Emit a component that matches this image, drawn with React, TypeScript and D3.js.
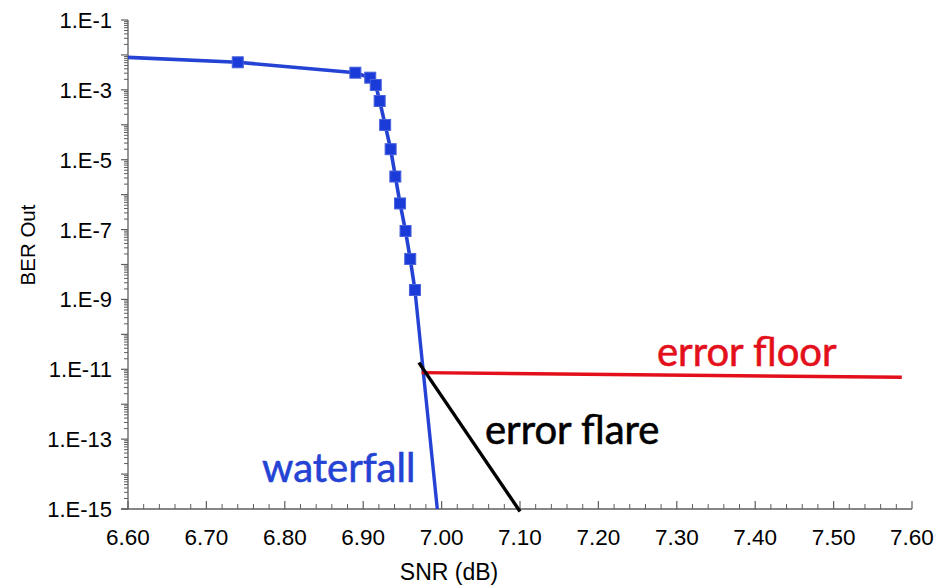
import React from "react";
import * as d3 from "d3";

// Measured BER curve (with markers)
const snrMeasured = [6.6, 6.74, 6.89, 6.909, 6.916, 6.921, 6.928, 6.935, 6.941, 6.947, 6.954, 6.96, 6.966];
const berMeasured = [8.5e-3, 6.15e-3, 3.1e-3, 2.23e-3, 1.38e-3, 4.8e-4, 9.9e-5, 2.0e-5, 3.3e-6, 5.6e-7, 9.1e-8, 1.44e-8, 1.86e-9];
const markerFlags = [false, true, true, true, true, true, true, true, true, true, true, true, true];

// Extrapolated waterfall
const snrWaterfall = [6.966, 6.9945];
const berWaterfall = [1.86e-9, 1e-15];

// Error floor
const snrFloor = [6.9745, 7.587];
const berFloor = [8.0e-12, 5.9e-12];

// Error flare
const snrFlare = [6.971, 7.1];
const berFlare = [1.55e-11, 0.85e-15];

const xTickValues = [6.6, 6.7, 6.8, 6.9, 7.0, 7.1, 7.2, 7.3, 7.4, 7.5, 7.6];
const yTickExponents = [-1, -3, -5, -7, -9, -11, -13, -15];

const W = 938;
const H = 585;
const left = 128;
const right = 912;
const top = 20;
const bottom = 509;

export default function App() {
  const x = d3.scaleLinear().domain([6.6, 7.6]).range([left, right]);
  const y = d3.scaleLog().domain([1e-1, 1e-15]).range([top, bottom]);
  const line = d3
    .line<[number, number]>()
    .x((d) => x(d[0]))
    .y((d) => y(d[1]));

  const zip = (a: number[], b: number[]) => a.map((v, i) => [v, b[i]] as [number, number]);

  const axisColor = "#5e5e5e";
  const tickFont = "'Liberation Sans', Arial, sans-serif";
  const annoFont = "Lato, 'Open Sans', sans-serif";

  // y ticks
  const yMajor: number[] = [];
  const yMinor: number[] = [];
  for (let e = -1; e >= -15; e--) {
    yMajor.push(Math.pow(10, e));
    if (e > -15) {
      for (let k = 2; k <= 9; k++) yMinor.push(k * Math.pow(10, e - 1));
    }
  }
  // x minor ticks
  const xMinor: number[] = [];
  for (let i = 0; i <= 50; i++) {
    if (i % 5 !== 0) xMinor.push(6.6 + i * 0.02);
  }

  const blue = "#2443d4";
  const markerBlue = "#1b3bd8";
  const red = "#e3101c";

  return (
    <svg
      width={W}
      height={H}
      style={{ position: "absolute", left: 0, top: 0, background: "#fff" }}
    >
      <rect x={0} y={0} width={W} height={H} fill="#fff" />
      {/* axes */}
      <line x1={left} x2={left} y1={top} y2={bottom} stroke={axisColor} strokeWidth={1.3} />
      <line x1={left - 7} x2={right} y1={bottom} y2={bottom} stroke={axisColor} strokeWidth={1.3} />
      {yMajor.map((v, i) => (
        <line key={"ym" + i} x1={left - 7} x2={left} y1={y(v)} y2={y(v)} stroke={axisColor} strokeWidth={1.2} />
      ))}
      {yMinor.map((v, i) => (
        <line key={"yn" + i} x1={left - 4} x2={left} y1={y(v)} y2={y(v)} stroke={axisColor} strokeWidth={1} />
      ))}
      {xTickValues.map((v, i) => (
        <line key={"xm" + i} x1={x(v)} x2={x(v)} y1={bottom} y2={bottom - 8} stroke={axisColor} strokeWidth={1.2} />
      ))}
      {xMinor.map((v, i) => (
        <line key={"xn" + i} x1={x(v)} x2={x(v)} y1={bottom} y2={bottom - 5} stroke={axisColor} strokeWidth={1} />
      ))}
      {/* tick labels */}
      {yTickExponents.map((e) => (
        <text
          key={"yl" + e}
          x={112}
          y={y(Math.pow(10, e)) + 8}
          textAnchor="end"
          fontFamily={tickFont}
          fontSize={22}
          fill="#000"
        >
          {"1.E" + e}
        </text>
      ))}
      {xTickValues.map((v) => (
        <text
          key={"xl" + v}
          x={x(v)}
          y={545}
          textAnchor="middle"
          fontFamily={tickFont}
          fontSize={22.5}
          fill="#000"
        >
          {v.toFixed(2)}
        </text>
      ))}
      {/* axis titles */}
      <text x={449} y={580} textAnchor="middle" fontFamily={tickFont} fontSize={23} fill="#000">
        SNR (dB)
      </text>
      <text
        transform="translate(35,245) rotate(-90)"
        textAnchor="middle"
        fontFamily={tickFont}
        fontSize={20.5}
        fill="#000"
      >
        BER Out
      </text>

      {/* curves */}
      <path d={line(zip(snrWaterfall, berWaterfall)) || ""} fill="none" stroke={blue} strokeWidth={3.4} />
      <path d={line(zip(snrFloor, berFloor)) || ""} fill="none" stroke={red} strokeWidth={3.4} />
      <path d={line(zip(snrFlare, berFlare)) || ""} fill="none" stroke="#000" strokeWidth={3.4} />
      <path d={line(zip(snrMeasured, berMeasured)) || ""} fill="none" stroke={blue} strokeWidth={3.6} />
      {snrMeasured.map((s, i) =>
        markerFlags[i] ? (
          <rect
            key={"mk" + i}
            x={x(s) - 5.5}
            y={y(berMeasured[i]) - 5.5}
            width={11}
            height={11}
            fill={markerBlue}
            stroke="#4862dc"
            strokeWidth={1}
          />
        ) : null
      )}

      {/* annotations */}
      <text x={657} y={366} fontFamily={annoFont} fontSize={40} fill={red} stroke={red} strokeWidth={0.6}>
        error floor
      </text>
      <text x={485} y={444} fontFamily={annoFont} fontSize={40} fill="#000" stroke="#000" strokeWidth={0.6}>
        error flare
      </text>
      <text x={262} y={482} fontFamily={annoFont} fontSize={40} fill={blue} stroke={blue} strokeWidth={0.6}>
        waterfall
      </text>
    </svg>
  );
}
